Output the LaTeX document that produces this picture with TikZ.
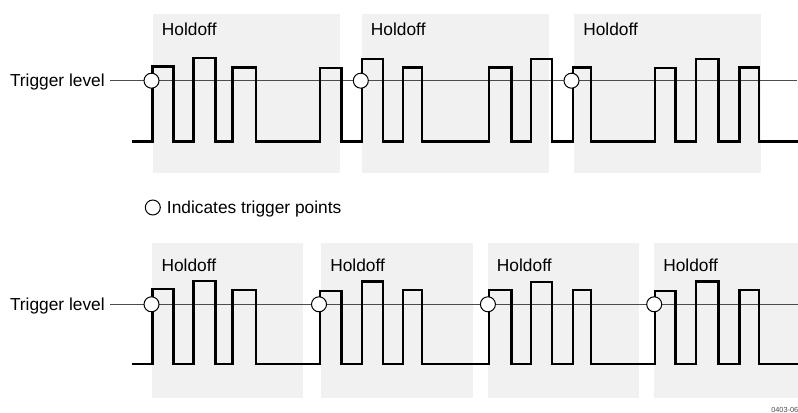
\documentclass[tikz,border=0pt]{standalone}
\usepackage{fontspec}
\setmainfont{Liberation Sans}
\usetikzlibrary{positioning}
\definecolor{holdgray}{HTML}{F1F1F1}

\begin{document}
\begin{tikzpicture}[x=0.75pt, y=-0.75pt,
    lbl/.style={font=\fontsize{13}{15}\selectfont, inner sep=0pt},
    holdbox/.style={fill=holdgray},
    level/.style={draw=black!70, line width=0.7pt},
    wave/.style={line width=1.8pt},
    trigpt/.style={circle, draw, fill=white, line width=0.75pt, minimum size=11.25pt, inner sep=0pt}]
    \useasboundingbox (0,0) rectangle (798,413);
    \foreach \a/\b [count=\i] in {153/340, 362/549, 574.3/761} {
        \fill[holdbox] (\a,14) rectangle (\b,173);
        \node[lbl, anchor=base west] (holdA\i) at (\a+8.7,36) {Holdoff};
    }
    \foreach \a/\b [count=\i] in {152.3/303.3, 321/472.7, 487.7/639, 654/798} {
        \fill[holdbox] (\a,242.7) rectangle (\b,398.3);
        \node[lbl, anchor=base west] (holdB\i) at (\a+9,271.7) {Holdoff};
    }
    \coordinate (levA) at (110,80.7);
    \coordinate (levAend) at (797,80.7);
    \coordinate (levB) at (110,304.3);
    \coordinate (levBend) at (798,304.3);
    \draw[level] (levA) -- (levAend);
    \draw[level] (levB) -- (levBend);
    \node[lbl, anchor=base east] (trigA) at (105,86.5) {Trigger level};
    \node[lbl, anchor=base east] (trigB) at (105,310.3) {Trigger level};
    \foreach \low in {141.7, 364.2} {
        \draw[wave] (132,\low)
            \foreach \r/\f/\h in {152.3/173.3/75, 193.3/215.5/83.4, 232.3/256/74,
                                 320/341.3/73.4, 362/383/82.7, 402.7/422/74,
                                 489/511.5/74, 531/552/82.4, 572.7/591/74,
                                 655/675.5/73.4, 696/718.3/82.7, 739.3/759/74}
            { -- (\r,\low) -- (\r,\low-\h) -- (\f,\low-\h) -- (\f,\low) }
            -- (797.5,\low);
    }
    \foreach \x [count=\i] in {151.5, 360.8, 571.5} \node[trigpt] (tpA\i) at (\x,80.7) {};
    \foreach \x [count=\i] in {151.5, 319, 487.9, 654.2} \node[trigpt] (tpB\i) at (\x,304.3) {};
    \node[trigpt] (legmark) at (152.8,207.5) {};
    \node[lbl, anchor=base west] (legtext) at (166.7,214) {Indicates trigger points};
    \node[font=\fontsize{5.5}{6}\selectfont, text=black!70, anchor=base west, inner sep=0pt] (fignum) at (771,412.5) {0403-06};
\end{tikzpicture}
\end{document}
